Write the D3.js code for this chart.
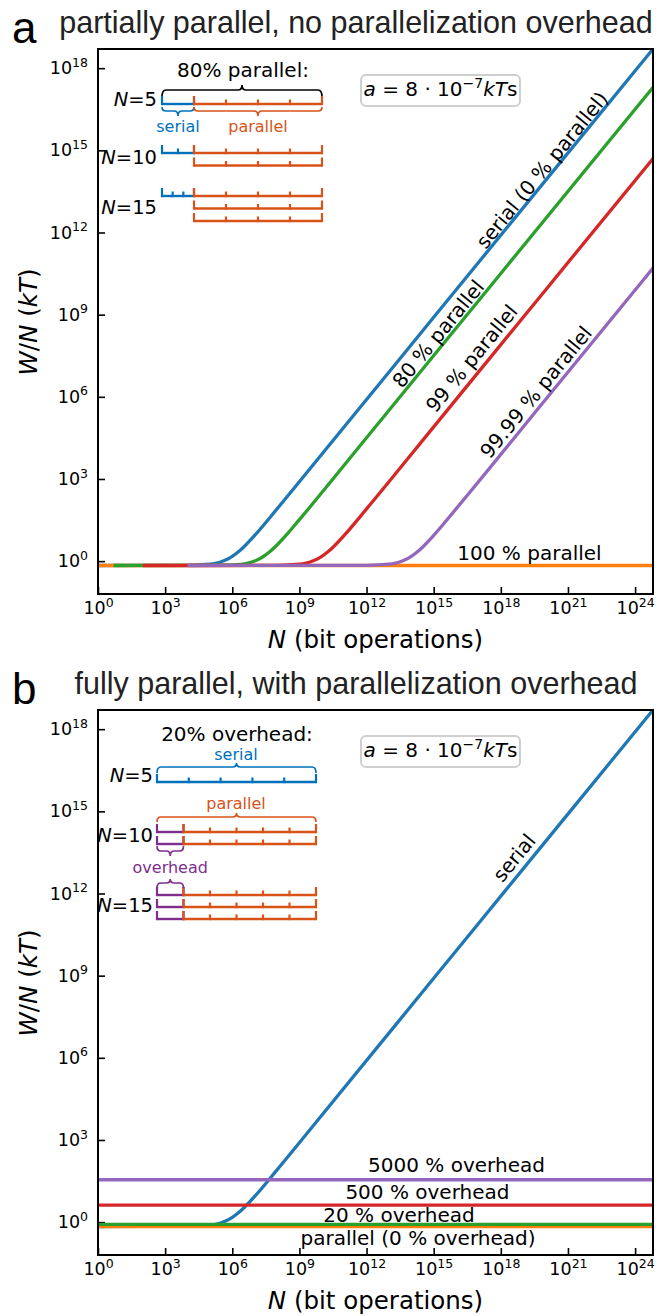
<!DOCTYPE html>
<html>
<head>
<meta charset="utf-8">
<script src="https://cdn.jsdelivr.net/npm/d3@7/dist/d3.min.js"></script>
<style>
  body { margin: 0; background: #fff; }
  svg text { font-family: "DejaVu Sans", sans-serif; }
</style>
</head>
<body>
<script>
// ---- values ----
const xTickExps = [0, 3, 6, 9, 12, 15, 18, 21, 24];
const yTickExps = [0, 3, 6, 9, 12, 15, 18];

// serial (0 % parallel), used in both panels
const serialN = [1, 1e4, 1e5, 2e5, 3e5, 5e5, 1e6, 2e6, 3e6, 1e7, 1e8, 1e10, 1e15, 1e20, 6.3e24];
const serialW = [0.693, 0.701, 0.773, 0.853, 0.933, 1.093, 1.493, 2.293, 3.093, 8.69, 80.7, 8.0e3, 8.0e8, 8.0e13, 5.0e18];

// panel a
const par80N = [5, 1e5, 1e6, 5e6, 1e7, 2e7, 3e7, 5e7, 1e8, 3e8, 1e9, 1e12, 1e18, 6.3e24];
const par80W = [0.693, 0.696, 0.725, 0.853, 1.013, 1.333, 1.653, 2.293, 3.893, 10.29, 32.7, 3.2e4, 3.2e10, 2.0e17];
const par99N = [100, 1e8, 1e9, 2e9, 3e9, 5e9, 1e10, 2e10, 3e10, 1e11, 1e12, 1e15, 1e20, 6.3e24];
const par99W = [0.693, 0.701, 0.773, 0.853, 0.933, 1.093, 1.493, 2.293, 3.093, 8.69, 80.7, 8.0e4, 8.0e9, 5.0e14];
const par9999N = [1e4, 1e12, 1e13, 2e13, 3e13, 5e13, 1e14, 2e14, 3e14, 1e15, 1e16, 1e20, 6.3e24];
const par9999W = [0.693, 0.701, 0.773, 0.853, 0.933, 1.093, 1.493, 2.293, 3.093, 8.69, 80.7, 8.0e5, 5.0e10];
const par100N = [1, 6.3e24];
const par100W = [0.693, 0.693];

// panel b: flat levels of the fully parallel runs
const overheadNames = ["parallel (0 % overhead)", "20 % overhead", "500 % overhead", "5000 % overhead"];
const overheadW = [0.693, 0.832, 4.16, 35.3];

// inset diagrams
const insetN = [5, 10, 15];
const insetSerialOps = [1, 2, 3];   // panel a, serial part
const insetLanes = [1, 2, 3];
const parallelOpsA = 4;
const parallelOpsB = 5;

// ---- layout ----
const W = 657, H = 1316;
const M = {left: 98, right: 653, top: 49, bottom: 594};
const SHIFT = 661;
const C = {blue: "#1f77b4", orange: "#ff7f0e", green: "#2ca02c", red: "#d62728", purple: "#9467bd"};
const IC = {blue: "#0072BD", orange: "#D95319", purple: "#7E2F8E"};

const svg = d3.select("body").append("svg").attr("width", W).attr("height", H);

const zip = (a, b) => a.map((v, i) => [v, b[i]]);

function powLabel() {
  const t = d3.select(this);
  const e = Math.round(Math.log10(t.datum()));
  t.text(null);
  t.append("tspan").text("10");
  t.append("tspan").attr("font-size", "12.5px").attr("dy", -7.5).text(e);
}

function brace(g, x0, x1, yEnd, yLine, yPeak, color) {
  const r = 4, xm = (x0 + x1) / 2;
  const d = `M${x0},${yEnd} Q${x0},${yLine} ${x0 + r},${yLine} L${xm - r},${yLine} ` +
    `Q${xm},${yLine} ${xm},${yPeak} Q${xm},${yLine} ${xm + r},${yLine} ` +
    `L${x1 - r},${yLine} Q${x1},${yLine} ${x1},${yEnd}`;
  g.append("path").attr("d", d).attr("fill", "none").attr("stroke", color).attr("stroke-width", 1.7);
}

function ruler(g, x0, x1, y, n, color) {
  g.append("line").attr("x1", x0).attr("x2", x1).attr("y1", y).attr("y2", y)
    .attr("stroke", color).attr("stroke-width", 2.4);
  const step = (x1 - x0) / n;
  for (let i = 0; i <= n; i++) {
    const h = (i === 0 || i === n) ? 8 : 4.5;
    const xx = x0 + i * step;
    g.append("line").attr("x1", xx).attr("x2", xx).attr("y1", y + 1.2).attr("y2", y - h)
      .attr("stroke", color).attr("stroke-width", 2.2);
  }
}

function nLabel(g, x, y, n) {
  const t = g.append("text").attr("x", x).attr("y", y).attr("text-anchor", "end").attr("font-size", 19.5);
  t.append("tspan").attr("font-style", "italic").text("N");
  t.append("tspan").text("=" + n);
}

function panel(oy, opt) {
  const g = svg.append("g");
  const x = d3.scaleLog().domain([1, 10 ** 24.8]).range([M.left, M.right]);
  const y = d3.scaleLog().domain([10 ** -1.2, 10 ** 18.7]).range([M.bottom + oy, M.top + oy]);

  // letter + title
  g.append("text").attr("x", 12).attr("y", 43 + oy).attr("font-size", 44)
    .style("font-family", "'Liberation Sans', Arial, sans-serif").text(opt.letter);
  g.append("text").attr("x", 356).attr("y", 33 + oy).attr("text-anchor", "middle").attr("font-size", 30.5)
    .attr("fill", "#222").style("font-family", "'Liberation Sans', Arial, sans-serif").text(opt.title);

  const clipId = "clip" + opt.letter;
  g.append("clipPath").attr("id", clipId).append("rect")
    .attr("x", M.left).attr("y", M.top + oy).attr("width", M.right - M.left).attr("height", M.bottom - M.top);

  // axes
  g.append("g").attr("transform", `translate(0,${M.bottom + oy})`)
    .call(d3.axisBottom(x).tickValues(xTickExps.map(e => 10 ** e)).tickSizeInner(-7).tickSizeOuter(0).tickPadding(8))
    .attr("font-size", 17.5).attr("font-family", "DejaVu Sans")
    .call(s => s.select(".domain").remove())
    .call(s => s.selectAll(".tick line").attr("stroke-width", 1.6))
    .call(s => s.selectAll(".tick text").each(powLabel));
  g.append("g").attr("transform", `translate(${M.left},0)`)
    .call(d3.axisLeft(y).tickValues(yTickExps.map(e => 10 ** e)).tickSizeInner(-7).tickSizeOuter(0).tickPadding(10))
    .attr("font-size", 17.5).attr("font-family", "DejaVu Sans")
    .call(s => s.select(".domain").remove())
    .call(s => s.selectAll(".tick line").attr("stroke-width", 1.6))
    .call(s => s.selectAll(".tick text").each(powLabel));

  // axis titles
  const xl = g.append("text").attr("x", (M.left + M.right) / 2).attr("y", 648 + oy)
    .attr("text-anchor", "middle").attr("font-size", 24.5);
  xl.append("tspan").attr("font-style", "italic").text("N");
  xl.append("tspan").text(" (bit operations)");
  const yl = g.append("text").attr("transform", `translate(28,${322 + oy}) rotate(-90)`)
    .attr("text-anchor", "middle").attr("dominant-baseline", "central").attr("font-size", 24.5);
  yl.append("tspan").attr("font-style", "italic").text("W");
  yl.append("tspan").text("/");
  yl.append("tspan").attr("font-style", "italic").text("N");
  yl.append("tspan").text(" (");
  yl.append("tspan").attr("font-style", "italic").text("kT");
  yl.append("tspan").text(")");

  // curves
  const line = d3.line().x(d => x(d[0])).y(d => y(d[1])).curve(d3.curveMonotoneX);
  const lines = g.append("g").attr("clip-path", `url(#${clipId})`);
  opt.series.forEach(s => {
    lines.append("path").attr("d", line(s.pts)).attr("fill", "none")
      .attr("stroke", s.color).attr("stroke-width", 3.3).attr("stroke-linejoin", "round");
  });

  // line labels
  const ang = Math.atan2(y(1) - y(10), x(10) - x(1)) * 180 / Math.PI;
  opt.labels.forEach(l => {
    const px = x(10 ** l.lx), py = y(10 ** l.ly);
    const t = g.append("text").attr("font-size", 20).attr("text-anchor", "middle");
    if (l.rot) {
      t.attr("transform", `translate(${px},${py}) rotate(${-ang})`).attr("dominant-baseline", "central");
    } else {
      t.attr("x", px).attr("y", py);
    }
    t.text(l.text);
  });

  // frame
  g.append("rect").attr("x", M.left).attr("y", M.top + oy)
    .attr("width", M.right - M.left).attr("height", M.bottom - M.top)
    .attr("fill", "none").attr("stroke", "#000").attr("stroke-width", 2);

  // parameter box
  g.append("rect").attr("x", 361).attr("y", 75 + oy).attr("width", 159).attr("height", 31).attr("rx", 5)
    .attr("fill", "#fff").attr("stroke", "#cfcfcf").attr("stroke-width", 2);
  const at = g.append("text").attr("x", 440.5).attr("y", 96 + oy).attr("text-anchor", "middle").attr("font-size", 20);
  at.append("tspan").attr("font-style", "italic").text("a");
  at.append("tspan").text(" = 8 · 10");
  at.append("tspan").attr("font-size", "14px").attr("dy", -8).text("−7");
  at.append("tspan").attr("dy", 8).attr("font-style", "italic").text("kT");
  at.append("tspan").text("s");

  opt.inset(g, oy);
}

function insetA(g, oy) {
  const x0 = 162, u = 32, xs = x0 + u, x1 = x0 + 5 * u;
  const rowY = [104, 153, 196], labY = [106, 164, 214], lane = 12.5;
  g.append("text").attr("x", 243).attr("y", 77 + oy).attr("text-anchor", "middle").attr("font-size", 20).text("80% parallel:");
  brace(g, x0, x1, 97 + oy, 90 + oy, 85 + oy, "#000");
  insetN.forEach((n, i) => {
    nLabel(g, 157, labY[i] + oy, n);
    for (let k = 0; k < insetLanes[i]; k++) {
      const yy = rowY[i] + k * lane + oy;
      if (k === 0) ruler(g, x0, xs, yy, insetSerialOps[i], IC.blue);
      ruler(g, xs, x1, yy, parallelOpsA, IC.orange);
    }
  });
  brace(g, x0, xs, 107 + oy, 111 + oy, 116 + oy, IC.blue);
  brace(g, xs, x1, 107 + oy, 111 + oy, 116 + oy, IC.orange);
  g.append("text").attr("x", (x0 + xs) / 2).attr("y", 132 + oy).attr("text-anchor", "middle")
    .attr("font-size", 16).attr("fill", IC.blue).text("serial");
  g.append("text").attr("x", (xs + x1) / 2).attr("y", 132 + oy).attr("text-anchor", "middle")
    .attr("font-size", 16).attr("fill", IC.orange).text("parallel");
}

function insetB(g, oy) {
  const x0 = 157, x1 = 316, u = (x1 - x0) / (parallelOpsB + 1), xo = x0 + u;
  const rowY = [782, 832, 895], labY = [782, 842, 912], lane = 12;
  g.append("text").attr("x", 237).attr("y", 741 - SHIFT + oy).attr("text-anchor", "middle").attr("font-size", 20).text("20% overhead:");
  g.append("text").attr("x", 236).attr("y", 760 - SHIFT + oy).attr("text-anchor", "middle")
    .attr("font-size", 16).attr("fill", IC.blue).text("serial");
  brace(g, x0, x1, 773 - SHIFT + oy, 767 - SHIFT + oy, 763 - SHIFT + oy, IC.blue);
  g.append("text").attr("x", 236).attr("y", 809 - SHIFT + oy).attr("text-anchor", "middle")
    .attr("font-size", 16).attr("fill", IC.orange).text("parallel");
  brace(g, x0, x1, 822 - SHIFT + oy, 817 - SHIFT + oy, 813 - SHIFT + oy, IC.orange);
  insetN.forEach((n, i) => {
    nLabel(g, 153, labY[i] - SHIFT + oy, n);
    if (i === 0) {
      ruler(g, x0, x1, rowY[i] - SHIFT + oy, 5, IC.blue);
      return;
    }
    for (let k = 0; k < insetLanes[i]; k++) {
      const yy = rowY[i] + k * lane - SHIFT + oy;
      ruler(g, x0, xo, yy, 1, IC.purple);
      ruler(g, xo, x1, yy, parallelOpsB, IC.orange);
    }
  });
  brace(g, x0, xo, 846 - SHIFT + oy, 851 - SHIFT + oy, 856 - SHIFT + oy, IC.purple);
  g.append("text").attr("x", (x0 + xo) / 2).attr("y", 873 - SHIFT + oy).attr("text-anchor", "middle")
    .attr("font-size", 16).attr("fill", IC.purple).text("overhead");
  brace(g, x0, xo, 888 - SHIFT + oy, 883 - SHIFT + oy, 879 - SHIFT + oy, IC.purple);
}

panel(0, {
  letter: "a",
  title: "partially parallel, no parallelization overhead",
  series: [
    {pts: zip(serialN, serialW), color: C.blue},
    {pts: zip(par100N, par100W), color: C.orange},
    {pts: zip(par80N, par80W), color: C.green},
    {pts: zip(par99N, par99W), color: C.red},
    {pts: zip(par9999N, par9999W), color: C.purple}
  ],
  labels: [
    {text: "serial (0 % parallel)", lx: 19.84, ly: 14.28, rot: true},
    {text: "80 % parallel", lx: 15.2, ly: 8.3, rot: true},
    {text: "99 % parallel", lx: 16.7, ly: 7.4, rot: true},
    {text: "99.99 % parallel", lx: 19.57, ly: 6.17, rot: true},
    {text: "100 % parallel", lx: 19.28, ly: 0.04, rot: false}
  ],
  inset: insetA
});

const levelColors = [C.orange, C.green, C.red, C.purple];
const levelLabelPos = [[14.3, -0.82], [13.45, 0.0], [14.72, 0.84], [16.02, 1.83]];
panel(SHIFT, {
  letter: "b",
  title: "fully parallel, with parallelization overhead",
  series: [{pts: zip(serialN, serialW), color: C.blue}].concat(
    overheadW.map((w, i) => ({pts: [[1, w], [6.3e24, w]], color: levelColors[i]}))),
  labels: [{text: "serial", lx: 18.6, ly: 13.3, rot: true}].concat(
    overheadNames.map((t, i) => ({text: t, lx: levelLabelPos[i][0], ly: levelLabelPos[i][1], rot: false}))),
  inset: insetB
});
</script>
</body>
</html>
